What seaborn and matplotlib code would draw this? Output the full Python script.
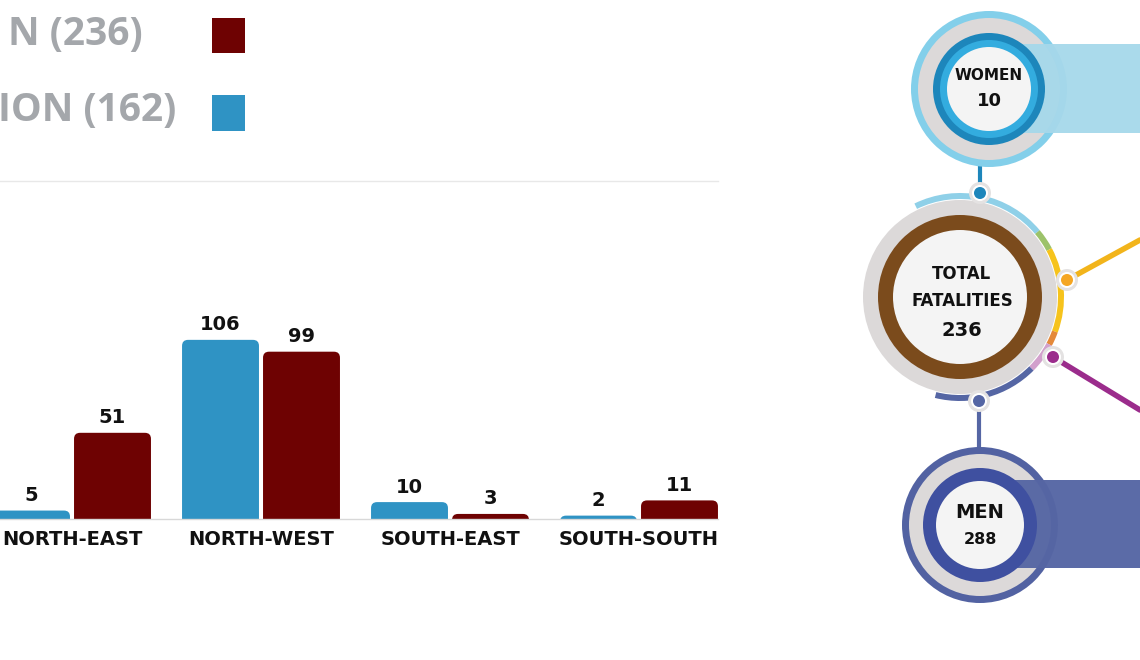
import matplotlib
matplotlib.use("Agg")
import matplotlib.pyplot as plt
from matplotlib.patches import Circle, Wedge, Rectangle, FancyBboxPatch
import seaborn as sns
import pandas as pd

# data
regions = ["NORTH-EAST", "NORTH-WEST", "SOUTH-EAST", "SOUTH-SOUTH"]
blue_values = [5, 106, 10, 2]
red_values = [51, 99, 3, 11]
series_names = ["ION (162)", "N (236)"]   # cropped legend text, blue / red
women_count = 10
total_count = 236
men_count = 288

BLUE = "#2f93c4"
RED = "#6e0202"
GREY_TXT = "#a4a7ab"
INK = "#111111"

sns.set_theme(style="white")
plt.rcParams["font.family"] = ["DejaVu Sans"]

fig = plt.figure(figsize=(11.4, 6.6), dpi=100)
fig.patch.set_facecolor("white")

# ---- background axes in pixel coords for the legend and infographic ----
bg = fig.add_axes([0, 0, 1, 1])
bg.set_xlim(0, 1140)
bg.set_ylim(660, 0)
bg.axis("off")

# legend (cropped on the left)
bg.text(143, 35, series_names[1], ha="right", va="center", fontsize=28,
        fontweight="bold", color=GREY_TXT, family="Open Sans")
bg.text(176, 111, series_names[0], ha="right", va="center", fontsize=28,
        fontweight="bold", color=GREY_TXT, family="Open Sans")
bg.add_patch(Rectangle((212, 18), 33, 35, color=RED, lw=0))
bg.add_patch(Rectangle((212, 95), 33, 36, color=BLUE, lw=0))


def disc(c, r, color, z, alpha=1):
    bg.add_patch(Circle(c, r, facecolor=color, lw=0, zorder=z, alpha=alpha))


def arc(c, r, a1, a2, color, w=6, z=3):
    # y axis is inverted, so visual angles flip sign
    bg.add_patch(Wedge(c, r, -a2, -a1, width=w, facecolor=color, lw=0, zorder=z))


def dot(c, color):
    disc(c, 11, "#e4e2e2", 8)
    disc(c, 8, "white", 9)
    disc(c, 6, color, 10)


# women
wc = (989, 89)
disc(wc, 78, "#83cfea", 2)
disc(wc, 71, "#dcd9d9", 3)
bg.add_patch(Rectangle((1020, 44), 120, 89, facecolor="#a6d8ea", lw=0,
                       zorder=4, alpha=0.95))
disc(wc, 56, "#1d86bb", 5)
disc(wc, 49, "#33acdf", 5.5)
disc(wc, 42, "#f4f4f4", 6)
bg.text(wc[0], 75, "WOMEN", ha="center", va="center", fontsize=11,
        fontweight="bold", color=INK, zorder=7)
bg.text(wc[0], 101, str(women_count), ha="center", va="center", fontsize=13,
        fontweight="bold", color=INK, zorder=7)

# total
tc = (960, 297)
bg.plot([980, 980], [160, 193], color="#1d86bb", lw=3, zorder=1)
bg.plot([1067, 1140], [280, 240], color="#f2b41b", lw=4, zorder=1)
bg.plot([1053, 1140], [357, 410], color="#9b2c8c", lw=4, zorder=1)
bg.plot([979, 979], [401, 455], color="#5566a4", lw=3, zorder=1)
disc(tc, 97, "#dcd9d9", 2)
arc(tc, 104, 40, 116, "#8fd0e8")
arc(tc, 104, 28, 40, "#9cc26a")
arc(tc, 104, -20, 28, "#f6c31c")
arc(tc, 104, -28, -20, "#e4893a")
arc(tc, 104, -45, -28, "#d2a0cc")
arc(tc, 104, -104, -45, "#5566a4")
disc(tc, 82, "#7b4b1c", 4)
disc(tc, 67, "#f4f4f4", 5)
dot((980, 193), "#1d86bb")
dot((1067, 280), "#f5a623")
dot((1053, 357), "#9b2c8c")
dot((979, 401), "#5566a4")
bg.text(tc[0] + 2, 274, "TOTAL", ha="center", va="center", fontsize=12,
        fontweight="bold", color=INK, zorder=7)
bg.text(tc[0] + 2, 301, "FATALITIES", ha="center", va="center", fontsize=12,
        fontweight="bold", color=INK, zorder=7)
bg.text(tc[0] + 2, 331, str(total_count), ha="center", va="center", fontsize=14,
        fontweight="bold", color=INK, zorder=7)

# men
mc = (980, 525)
disc(mc, 78, "#5262a2", 2)
disc(mc, 71, "#dcd9d9", 3)
bg.add_patch(Rectangle((1010, 480), 130, 88, facecolor="#5666a4", lw=0,
                       zorder=4, alpha=0.97))
disc(mc, 57, "#3f50a0", 5)
disc(mc, 44, "#f4f4f4", 6)
bg.text(mc[0], 512, "MEN", ha="center", va="center", fontsize=14,
        fontweight="bold", color=INK, zorder=7)
bg.text(mc[0], 540, str(men_count), ha="center", va="center", fontsize=11.5,
        fontweight="bold", color=INK, zorder=7)

# ---- bar chart ----
ax = fig.add_axes([0, (660 - 519) / 660, 718 / 1140, 338 / 660])
ax.set_facecolor("none")

df = pd.DataFrame({
    "region": regions * 2,
    "value": blue_values + red_values,
    "series": [series_names[0]] * len(regions) + [series_names[1]] * len(regions),
})
sns.barplot(data=df, x="region", y="value", hue="series", hue_order=series_names,
            palette=[BLUE, RED], width=0.857, gap=0.05, saturation=1,
            legend=False, ax=ax)

for cont in ax.containers:
    ax.bar_label(cont, fmt="%d", padding=4, fontsize=14, fontweight="bold",
                 color=INK)

ax.set_xlim(-0.381, 3.418)
ax.set_ylim(0, 200)

# rounded tops: swap each rectangle for a rounded box that dips below 0 (clipped)
for bar in list(ax.patches):
    x, w, h = bar.get_x(), bar.get_width(), bar.get_height()
    fc = bar.get_facecolor()
    bar.set_visible(False)
    ax.add_patch(FancyBboxPatch((x, -5), w, h + 5,
                                boxstyle="round,pad=0,rounding_size=0.032",
                                mutation_aspect=111, facecolor=fc, lw=0))

ax.set_xlabel("")
ax.set_ylabel("")
ax.set_yticks([])
ax.tick_params(axis="x", length=0, pad=8)
for lab in ax.get_xticklabels():
    lab.set_fontsize(14)
    lab.set_fontweight("bold")
    lab.set_color(INK)
for side in ["left", "right"]:
    ax.spines[side].set_visible(False)
ax.spines["bottom"].set_color("#d8d8d8")
ax.spines["top"].set_color("#e8e8e8")
ax.spines["bottom"].set_linewidth(1)
ax.spines["top"].set_linewidth(1)

fig.savefig("out.png", dpi=100)
plt.close(fig)
